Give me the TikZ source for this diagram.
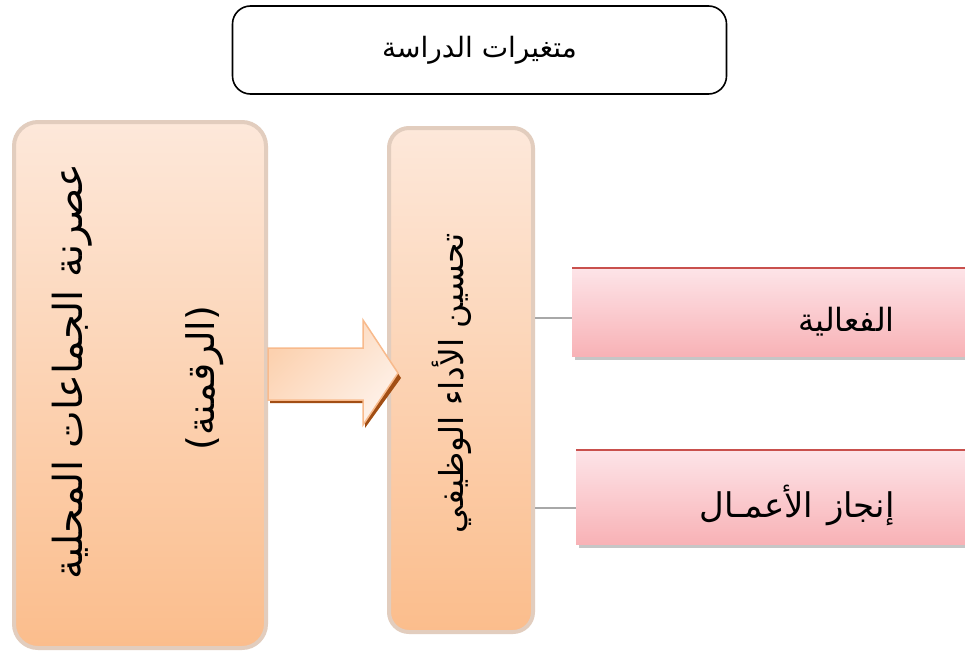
\documentclass[tikz,border=0pt]{standalone}
\usepackage{fontspec}
\TeXXeTstate=1
\newfontfamily\arabicfont[Script=Arabic]{DejaVu Sans}
\definecolor{peachtop}{HTML}{FDE8DA}
\definecolor{peachbot}{HTML}{FBBD8C}
\definecolor{peachedge}{HTML}{E2CDBE}
\definecolor{pinktop}{HTML}{FDE4E8}
\definecolor{pinkbot}{HTML}{F8B2B6}
\definecolor{redline}{HTML}{C9504D}
\definecolor{arrowedge}{HTML}{F8BA8C}
\definecolor{arrowshadow}{HTML}{A24E14}
\definecolor{linkgray}{HTML}{A8A8A8}
\tikzset{
  titlebox/.style={draw=black, line width=1.6pt, rounded corners=18pt, fill=white},
  panel/.style={draw=peachedge, line width=4pt, rounded corners=24pt,
    top color=peachtop, bottom color=peachbot},
  pinkbox/.style={top color=pinktop, bottom color=pinkbot, draw=none},
  link/.style={draw=linkgray, line width=1.6pt},
  artext/.style={font=\arabicfont\fontsize{#1}{#1}\selectfont, inner sep=0pt},
}
\begin{document}
\begin{tikzpicture}[x=1pt,y=-1pt]
\clip (0,0) rectangle (965,656);
\fill[white] (0,0) rectangle (965,656);

% title
\node[titlebox, minimum width=494pt, minimum height=88pt] (title) at (479.5,50) {};
\node[artext=28] (titletext) at (title.center) {\beginR متغيرات الدراسة\endR};

% left panel
\node[panel, minimum width=252pt, minimum height=526pt] (left) at (140,385) {};
\node[artext=40, rotate=90] (lefttext) at (72,372) {\beginR عصرنة الجماعات المحلية\endR};
\node[artext=38, rotate=90] (leftsub) at (205,378) {\beginR (الرقمنة)\endR};

% middle panel
\node[panel, minimum width=144pt, minimum height=504pt, rounded corners=20pt] (mid) at (461,380) {};
\node[artext=33, rotate=90] (midtext) at (452,383) {\beginR تحسين الأداء الوظيفي\endR};

% block arrow
\fill[arrowshadow] (270,351) -- (365,351) -- (365,323) -- (401,378) -- (365,428) -- (365,403) -- (270,403) -- cycle;
\path[draw=arrowedge, line width=1.5pt, left color=peachbot!70, right color=peachtop!60,
  shading angle=45]
  (268,348) -- (363,348) -- (363,320) -- (398,373) -- (363,425) -- (363,400) -- (268,400) -- cycle;

% right boxes
\fill[gray!45] (575,271) rectangle (970,360);
\node[pinkbox, minimum width=395pt, minimum height=88pt, anchor=north west] (eff) at (572,268) {};
\draw[redline, line width=1.2pt] (eff.north west) -- (eff.north east);
\node[artext=32, anchor=east] (efftext) at (895,322) {\beginR الفعالية\endR};

\fill[gray!45] (579,453) rectangle (970,548);
\node[pinkbox, minimum width=391pt, minimum height=94pt, anchor=north west] (work) at (576,450) {};
\draw[redline, line width=1.2pt] (work.north west) -- (work.north east);
\node[artext=34, anchor=east] (worktext) at (895,505) {\beginR إنجاز\hspace{14pt}الأعمـال\endR};

% connectors
\draw[link] (mid.east |- 0,318) -- (eff.west |- 0,318);
\draw[link] (mid.east |- 0,508) -- (work.west |- 0,508);
\end{tikzpicture}
\end{document}
